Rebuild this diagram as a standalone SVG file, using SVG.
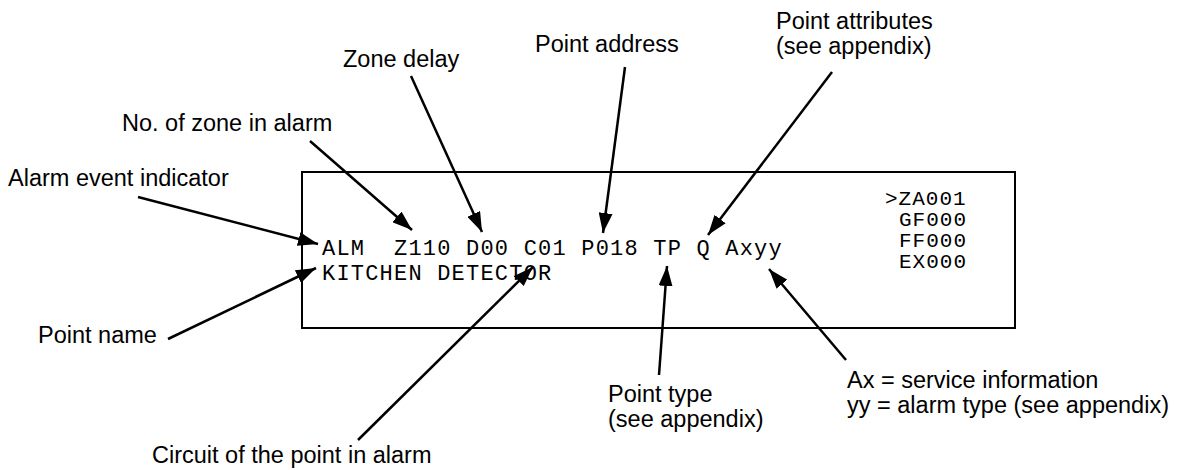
<svg xmlns="http://www.w3.org/2000/svg" width="1181" height="470" viewBox="0 0 1181 470">
<style>
.lbl{font-family:"Liberation Sans",Arial,sans-serif;font-size:23.5px;fill:#000}
.mono{font-family:"Liberation Mono","Courier New",monospace;font-size:22px;letter-spacing:1.2px;fill:#000;white-space:pre}
.monor{font-family:"Liberation Mono","Courier New",monospace;font-size:21px;letter-spacing:1px;fill:#000;white-space:pre}
.arr{stroke:#000;stroke-width:2.5;fill:none;marker-end:url(#ah)}
</style>
<defs>
<marker id="ah" markerUnits="userSpaceOnUse" markerWidth="22" markerHeight="14" refX="20" refY="7" orient="auto">
<path d="M0,0 L20,7 L0,14 Z" fill="#000"/>
</marker>
</defs>
<g id="display">
<rect x="302" y="172" width="713" height="156" fill="none" stroke="#000" stroke-width="2"/>
<text class="mono" x="322" y="255" xml:space="preserve">ALM  Z110 D00 C01 P018 TP Q Axyy</text>
<text class="mono" x="322" y="280">KITCHEN DETECTOR</text>
<text class="monor" x="885" y="205">&gt;ZA001</text>
<text class="monor" x="899" y="226">GF000</text>
<text class="monor" x="899" y="247">FF000</text>
<text class="monor" x="899" y="268">EX000</text>
</g>
<g id="label-alarm-event"><text class="lbl" x="8" y="186">Alarm event indicator</text></g>
<g id="label-zone-no"><text class="lbl" x="122" y="131">No. of zone in alarm</text></g>
<g id="label-zone-delay"><text class="lbl" x="343" y="67">Zone delay</text></g>
<g id="label-point-address"><text class="lbl" x="535" y="52">Point address</text></g>
<g id="label-point-attributes"><text class="lbl" x="776" y="29">Point attributes</text><text class="lbl" x="776" y="54">(see appendix)</text></g>
<g id="label-point-name"><text class="lbl" x="38" y="343">Point name</text></g>
<g id="label-circuit"><text class="lbl" x="152" y="463">Circuit of the point in alarm</text></g>
<g id="label-point-type"><text class="lbl" x="608" y="402">Point type</text><text class="lbl" x="608" y="427">(see appendix)</text></g>
<g id="label-ax"><text class="lbl" x="847" y="388">Ax = service information</text><text class="lbl" x="847" y="413">yy = alarm type (see appendix)</text></g>
<g id="connectors">
<line class="arr" x1="138" y1="197" x2="318" y2="244"/>
<line class="arr" x1="310" y1="141" x2="412" y2="230"/>
<line class="arr" x1="411" y1="76" x2="482" y2="232"/>
<line class="arr" x1="625" y1="67" x2="603" y2="233"/>
<line class="arr" x1="832" y1="72" x2="708" y2="235"/>
<line class="arr" x1="168" y1="339" x2="316" y2="268"/>
<line class="arr" x1="358" y1="440" x2="533" y2="267"/>
<line class="arr" x1="659" y1="375" x2="667" y2="266"/>
<line class="arr" x1="846" y1="360" x2="769" y2="269"/>
</g>
</svg>
